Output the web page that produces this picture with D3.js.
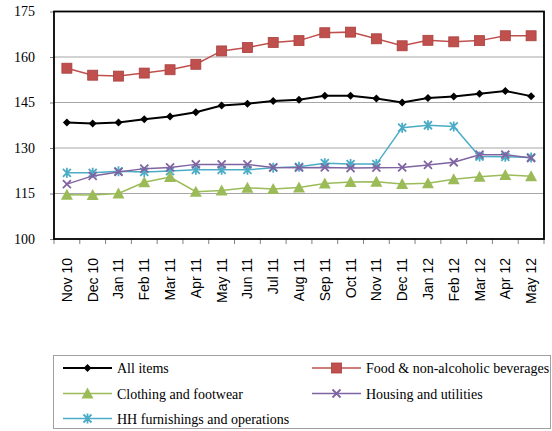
<!DOCTYPE html>
<html><head><meta charset="utf-8">
<script src="https://cdn.jsdelivr.net/npm/d3@7"></script>
<style>body{margin:0;background:#fff}svg{display:block}
.serif{font-family:"Liberation Serif","Times New Roman",Times,serif}
.sans{font-family:"Liberation Sans",Arial,Helvetica,sans-serif}
</style>
</head><body><svg id="c" width="552" height="431"></svg>
<script>
const months = ["Nov 10","Dec 10","Jan 11","Feb 11","Mar 11","Apr 11","May 11","Jun 11","Jul 11","Aug 11","Sep 11","Oct 11","Nov 11","Dec 11","Jan 12","Feb 12","Mar 12","Apr 12","May 12"];
const yTicks = [100,115,130,145,160,175];
const allItems = [138.4,138.1,138.4,139.5,140.4,141.8,144.0,144.6,145.5,145.9,147.2,147.2,146.3,145.0,146.5,147.0,147.9,148.8,147.1];
const food = [156.3,154.0,153.7,154.7,155.8,157.6,162.0,163.1,164.8,165.4,168.0,168.2,166.0,163.7,165.5,165.0,165.4,167.0,167.0];
const clothing = [114.6,114.5,115.0,118.7,120.4,115.6,116.0,116.9,116.5,117.0,118.3,118.8,118.9,118.1,118.4,119.7,120.5,121.1,120.7];
const housing = [118.1,120.8,122.1,123.2,123.6,124.6,124.6,124.6,123.6,123.5,123.6,123.4,123.5,123.6,124.4,125.3,127.8,127.8,126.7];
const hh = [121.8,121.8,122.3,122.1,122.4,122.8,122.8,122.8,123.5,123.8,125.0,124.7,124.7,136.7,137.5,137.1,127.2,127.1,126.9];
const seriesNames = ["All items","Food & non-alcoholic beverages","Clothing and footwear","Housing and utilities","HH furnishings and operations"];

const series = [
  {name:seriesNames[0], values:allItems, color:"#000000", marker:"diamond", width:2},
  {name:seriesNames[1], values:food, color:"#C0504D", marker:"square", width:1.5},
  {name:seriesNames[2], values:clothing, color:"#9BBB59", marker:"triangle", width:1.5},
  {name:seriesNames[3], values:housing, color:"#8064A2", marker:"x", width:1.5},
  {name:seriesNames[4], values:hh, color:"#4BACC6", marker:"star", width:1.5}
];

const svg = d3.select("#c");
const L=54, R=544, T=11.5, B=239;
const x = d3.scaleBand().domain(months).range([L,R]);
const y = d3.scaleLinear().domain([100,175]).range([B,T]);

svg.append("g").selectAll("line").data(yTicks.filter(v=>v>100&&v<175)).join("line")
  .attr("x1",L).attr("x2",R).attr("y1",d=>y(d)).attr("y2",d=>y(d))
  .attr("stroke","#a6a6a6").attr("stroke-width",1);

const ya = svg.append("g").attr("transform",`translate(${L},0)`)
  .call(d3.axisLeft(y).tickValues(yTicks).tickSize(4).tickPadding(15));
ya.attr("font-family",null).attr("font-size",null);
ya.select(".domain").remove();
ya.selectAll("line").attr("stroke","#808080");
ya.selectAll("text").attr("class","serif").style("font-size","14px").attr("fill","#000");

const bounds = months.map(m=>x(m)).concat([R]);
svg.append("g").selectAll("line").data(bounds).join("line")
  .attr("x1",d=>d).attr("x2",d=>d).attr("y1",B).attr("y2",B+5)
  .attr("stroke","#808080").attr("stroke-width",1);
svg.append("g").selectAll("text").data(months).join("text")
  .attr("class","sans")
  .attr("transform",d=>`translate(${x(d)+x.bandwidth()/2+5},258) rotate(-90)`)
  .attr("text-anchor","end")
  .style("font-size","14px").attr("fill","#000")
  .text(d=>d);

svg.append("rect").attr("x",L).attr("y",T).attr("width",R-L).attr("height",B-T)
  .attr("fill","none").attr("stroke","#000").attr("stroke-width",1.8);

function drawMarker(g, type, color, cx, cy) {
  if (type==="diamond") {
    g.append("path").attr("d",`M${cx},${cy-4}L${cx+4},${cy}L${cx},${cy+4}L${cx-4},${cy}Z`).attr("fill",color);
  } else if (type==="square") {
    g.append("rect").attr("x",cx-5).attr("y",cy-5).attr("width",10).attr("height",10)
      .attr("fill",color).attr("stroke","#a8403d").attr("stroke-width",0.8);
  } else if (type==="triangle") {
    g.append("path").attr("d",`M${cx},${cy-6}L${cx+6},${cy+5}L${cx-6},${cy+5}Z`).attr("fill",color);
  } else if (type==="x") {
    g.append("path").attr("d",`M${cx-4},${cy-4}L${cx+4},${cy+4}M${cx-4},${cy+4}L${cx+4},${cy-4}`)
      .attr("stroke",color).attr("stroke-width",1.8);
  } else if (type==="star") {
    g.append("path").attr("d",`M${cx-4},${cy-4}L${cx+4},${cy+4}M${cx-4},${cy+4}L${cx+4},${cy-4}M${cx},${cy-5}L${cx},${cy+5}`)
      .attr("stroke",color).attr("stroke-width",1.8);
  }
}

const line = d3.line().x((d,i)=>x(months[i])+x.bandwidth()/2).y(d=>y(d));
[4,3,2,1,0].forEach(k=>{
  const s = series[k];
  const g = svg.append("g");
  g.append("path").attr("d",line(s.values)).attr("fill","none").attr("stroke",s.color).attr("stroke-width",s.width);
  s.values.forEach((v,i)=>drawMarker(g,s.marker,s.color,x(months[i])+x.bandwidth()/2,y(v)));
});

svg.append("rect").attr("x",53.5).attr("y",355.5).attr("width",497).attr("height",73)
  .attr("fill","#fff").attr("stroke","#a0a0a0").attr("stroke-width",1);
const legPos = [[63,368],[312,368],[63,393.5],[312,393.5],[63,418.5]];
series.forEach((s,i)=>{
  const [lx,ly]=legPos[i];
  const g = svg.append("g");
  g.append("line").attr("x1",lx).attr("x2",lx+49).attr("y1",ly).attr("y2",ly).attr("stroke",s.color).attr("stroke-width",s.width);
  drawMarker(g,s.marker,s.color,lx+24.5,ly);
  g.append("text").attr("class","serif").attr("x",lx+54).attr("y",ly+5)
    .style("font-size","14px").attr("fill","#000").text(s.name);
});
</script></body></html>
